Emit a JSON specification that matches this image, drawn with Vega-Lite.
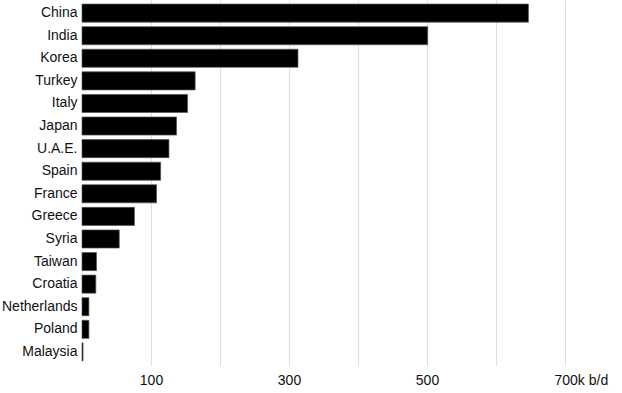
{
  "$schema": "https://vega.github.io/schema/vega-lite/v6.json",
  "autosize": {"type": "none"},
  "width": 483,
  "height": 365,
  "padding": {"left": 82, "top": 0, "right": 57, "bottom": 28},
  "background": "white",
  "data": {"values": [
    {"country": "China", "kbd": 647},
    {"country": "India", "kbd": 501},
    {"country": "Korea", "kbd": 313},
    {"country": "Turkey", "kbd": 164},
    {"country": "Italy", "kbd": 153},
    {"country": "Japan", "kbd": 137},
    {"country": "U.A.E.", "kbd": 126},
    {"country": "Spain", "kbd": 114},
    {"country": "France", "kbd": 108},
    {"country": "Greece", "kbd": 76},
    {"country": "Syria", "kbd": 54},
    {"country": "Taiwan", "kbd": 21},
    {"country": "Croatia", "kbd": 20},
    {"country": "Netherlands", "kbd": 10},
    {"country": "Poland", "kbd": 10},
    {"country": "Malaysia", "kbd": 1.5}
  ]},
  "mark": {"type": "bar", "color": "#000000", "stroke": "#555555", "strokeWidth": 0.7},
  "encoding": {
    "y": {
      "field": "country", "type": "nominal", "sort": null,
      "scale": {"paddingInner": 0.2, "paddingOuter": 0.18},
      "axis": {"title": null, "ticks": false, "domain": false, "labelPadding": 5,
               "labelFont": "Liberation Sans", "labelFontSize": 14, "labelColor": "#111111"}
    },
    "x": {
      "field": "kbd", "type": "quantitative",
      "scale": {"domain": [0, 700], "nice": false},
      "axis": {
        "title": null, "values": [100, 200, 300, 400, 500, 600, 700],
        "ticks": false, "domain": false, "gridColor": "#dddddd", "gridWidth": 1,
        "labelExpr": "datum.value == 700 ? '700k b/d' : (datum.value % 200 == 100 ? datum.label : '')",
        "labelAlign": {"condition": {"test": "datum.value == 700", "value": "left"}, "value": "center"},
        "labelOffset": {"condition": {"test": "datum.value == 700", "value": -11}, "value": 0},
        "labelPadding": 8, "labelFont": "Liberation Sans", "labelFontSize": 14, "labelColor": "#111111"
      }
    }
  },
  "config": {"view": {"stroke": null}}
}
